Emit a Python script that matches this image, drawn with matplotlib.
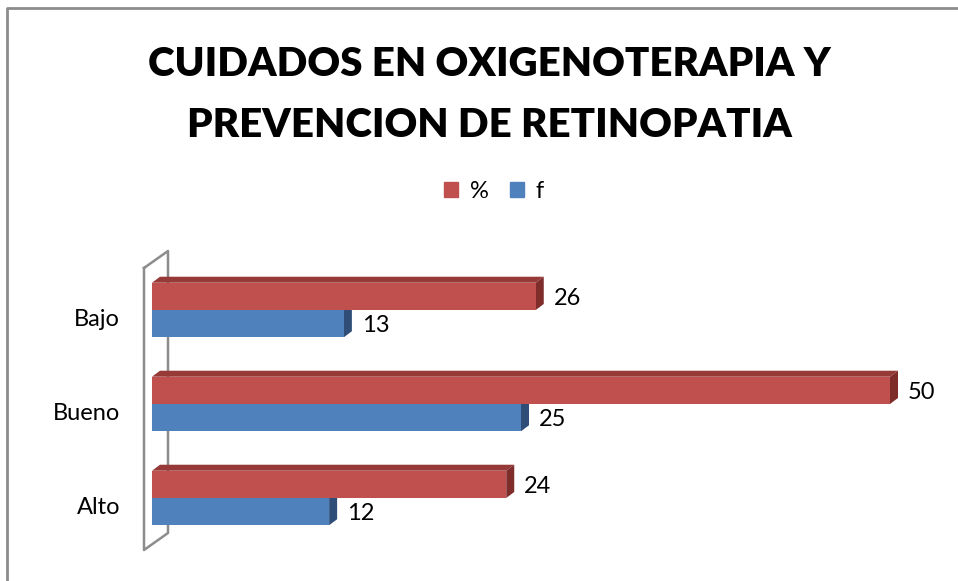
import numpy as np
import matplotlib.pyplot as plt
from matplotlib.patches import Polygon, Patch
from matplotlib.lines import Line2D

categorias = ["Alto", "Bueno", "Bajo"]
porcentaje = [24, 50, 26]
frecuencia = [12, 25, 13]

titulo = "CUIDADOS EN OXIGENOTERAPIA Y\nPREVENCION DE RETINOPATIA"

rojo = "#C0504D"
rojo_top = "#963A38"
rojo_side = "#7F2D2B"
azul = "#4F81BD"
azul_side = "#2E4E78"

plt.rcParams["font.family"] = ["Lato", "DejaVu Sans"]

W, H = 958, 581
fig = plt.figure(figsize=(W / 100, H / 100), dpi=100)

# axes placed over the bar area (pixels measured from the top-left)
ax = fig.add_axes([152 / W, 30 / H, 738 / W, 301 / H])
ax.set_xlim(0, 50)
ax.set_ylim(-0.564, -0.564 + 301 / 94)
ax.axis("off")

pos = np.arange(len(categorias))
h = 0.29
dx = 8 / 14.76
dy = 6 / 94

# blue side faces (behind the red front)
for y, v in zip(pos, frecuencia):
    y0, y1 = y - h, y
    ax.add_patch(Polygon([(v, y0), (v + dx, y0 + dy), (v + dx, y1 + dy), (v, y1)],
                         closed=True, facecolor=azul_side, edgecolor="none",
                         zorder=2, clip_on=False))

for y, v in zip(pos, porcentaje):
    y0, y1 = y, y + h
    ax.add_patch(Polygon([(0, y1), (dx, y1 + dy), (v + dx, y1 + dy), (v, y1)],
                         closed=True, facecolor=rojo_top, edgecolor="none",
                         zorder=2, clip_on=False))
    ax.add_patch(Polygon([(v, y0), (v + dx, y0 + dy), (v + dx, y1 + dy), (v, y1)],
                         closed=True, facecolor=rojo_side, edgecolor="none",
                         zorder=2, clip_on=False))

ax.barh(pos + h / 2, porcentaje, height=h, color=rojo, zorder=3, clip_on=False)
ax.barh(pos - h / 2, frecuencia, height=h, color=azul, zorder=3, clip_on=False)

for y, v in zip(pos, porcentaje):
    ax.annotate(str(v), xy=(v, y + h / 2), xytext=(18, -2), textcoords="offset pixels",
                ha="left", va="center", fontsize=17, annotation_clip=False)
for y, v in zip(pos, frecuencia):
    ax.annotate(str(v), xy=(v, y - h / 2), xytext=(18, -2), textcoords="offset pixels",
                ha="left", va="center", fontsize=17, annotation_clip=False)

for y, c in zip(pos, categorias):
    ax.annotate(c, xy=(0, y), xytext=(-32, -10), textcoords="offset pixels",
                ha="right", va="center", fontsize=17, annotation_clip=False)

# side wall
def fp(x, y):
    return x / W, 1 - y / H

wall = [(144, 268), (168, 251), (168, 533), (144, 550), (144, 268)]
xs, ys = zip(*[fp(x, y) for x, y in wall])
fig.add_artist(Line2D(xs, ys, color="#8C8C8C", lw=1.8, zorder=-1))

# chart border
fig.add_artist(Line2D([7 / W, 7 / W, 1], [0, 1 - 8 / H, 1 - 8 / H], color="#8C8C8C", lw=2))

fig.text(489 / W, 1 - 95 / H, titulo, ha="center", va="center", fontsize=29,
         fontweight="heavy", linespacing=1.82)

handles = [Patch(color=rojo, label="%"), Patch(color=azul, label="f")]
fig.legend(handles=handles, loc="center", bbox_to_anchor=(494 / W, 1 - 191 / H),
           ncol=2, frameon=False, fontsize=17, handlelength=0.6, handleheight=0.6,
           handletextpad=0.5, columnspacing=0.9)

fig.savefig("out.png", dpi=100)
